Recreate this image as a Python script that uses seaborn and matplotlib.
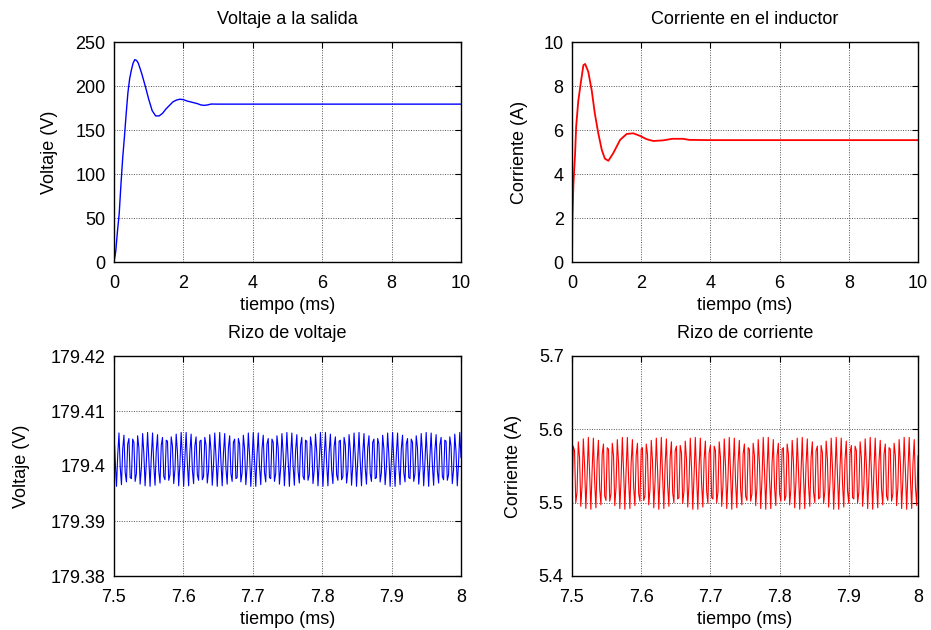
import numpy as np
import pandas as pd
import matplotlib
matplotlib.use("Agg")
import matplotlib.pyplot as plt
import seaborn as sns

# ---------------- data ----------------
# Output voltage (V) vs time (ms)
volt_t = [0, 0.05, 0.1, 0.15, 0.2, 0.25, 0.3, 0.35, 0.4, 0.45, 0.5, 0.55, 0.6, 0.65,
          0.7, 0.8, 0.9, 1.0, 1.1, 1.2, 1.3, 1.4, 1.5, 1.6, 1.7, 1.8, 1.9, 2.0, 2.1,
          2.2, 2.3, 2.4, 2.5, 2.6, 2.7, 2.8, 3.0, 4.0, 5.0, 6.0, 7.0, 8.0, 9.0, 10.0]
volt_v = [0, 12, 35, 55, 88, 118, 142, 168, 192, 208, 218, 226, 230, 229,
          226, 214, 200, 185, 172, 166, 166, 169, 174, 178, 182, 184, 185, 184.5, 183,
          182, 181, 180, 178.5, 178, 178.5, 179.5, 179.4, 179.4, 179.4, 179.4, 179.4,
          179.4, 179.4, 179.4]

# Inductor current (A) vs time (ms)
curr_t = [0, 0.01, 0.04, 0.09, 0.12, 0.18, 0.25, 0.33, 0.38, 0.47, 0.57, 0.66, 0.76,
          0.86, 0.95, 1.05, 1.19, 1.39, 1.58, 1.77, 1.97, 2.16, 2.35, 2.64, 2.9, 3.2,
          3.4, 4.0, 10.0]
curr_i = [0, 1.8, 3.5, 4.95, 6.15, 7.3, 8.1, 8.95, 9.0, 8.65, 7.8, 6.75, 5.85,
          5.1, 4.7, 4.6, 4.94, 5.55, 5.82, 5.85, 5.73, 5.58, 5.5, 5.53, 5.6, 5.6,
          5.55, 5.54, 5.54]

# Ripple window (ms)
ripple_t_start = 7.5
ripple_t_end = 8.0

# Voltage ripple: samples in units of 0.1 mV above 179.4 V
volt_ripple_base = 179.4
volt_ripple_units = [
    61, 9, -37, 20, 60, -2, -34, 31, 56, -12,
    -29, 40, 50, -21, -23, 49, 43, -28, -14, 55,
    33, -33, -4, 59, 23, -36, 7, 61, 12, -37,
    17, 60, 1, -35, 28, 57, -9, -31, 38, 52,
    -19, -25, 47, 45, -26, -16, 53, 36, -32, -7,
    58, 26, -36, 4, 61, 15,
    -37, 15, 61, 4, -36, 26, 58, -7, -32, 36,
    53, -16, -26, 45, 47, -25, -19, 52, 38, -31,
    -9, 57, 28, -35, 1, 60, 17, -37, 12, 61,
    7, -36, 23, 59, -4, -33, 33, 55, -14, -28,
    43, 49, -23, -21, 50, 40, -29, -12, 56, 31,
    -34, -2, 60, 20, -37, 9,
    61, 9, -37, 20, 60, -2, -34, 31, 56, -12,
    -29, 40, 50, -21, -23, 49, 43, -28, -14, 55,
    33, -33, -4, 59, 23, -36, 7, 61, 12, -37,
    17, 60, 1, -35, 28, 57, -9, -31, 38, 52,
    -19, -25, 47, 45, -26, -16, 53, 36, -32, -7,
    58, 26, -36, 4, 61, 15,
    -37, 15, 61, 4, -36, 26, 58, -7, -32, 36,
    53, -16, -26, 45, 47, -25, -19, 52, 38, -31,
    -9, 57, 28, -35, 1, 60, 17, -37, 12, 61,
    7, -36, 23, 59, -4, -33, 33, 55, -14, -28,
    43, 49, -23, -21, 50, 40, -29, -12, 56, 31,
    -34, -2, 60, 20, -37, 9,
    61, 9, -37, 20, 60, -2, -34, 31, 56, -12,
    -29, 40, 50, -21, -23, 49, 43, -28, -14, 55,
    33, -33, -4, 59, 23, -36, 7, 61, 12, -37,
    17, 60, 1, -35, 28, 57, -9, -31, 38, 52,
    -19, -25, 47, 45, -26, -16, 53, 36, -32, -7,
    58, 26, -36, 4, 61, 15]

# Current ripple: samples in mA above 5.5 A
curr_ripple_base = 5.5
curr_ripple_units = [
    5, 77, 71, 0, 14, 83,
    61, -5, 24, 87, 51, -8, 35, 89, 40, -9,
    45, 88, 29, -7, 56, 85, 19, -3, 66, 80,
    9, 3, 75, 73, 2, 12, 81, 64, -4, 21,
    86, 54, -8, 32, 89, 43,
    -9, 43, 89, 32, -8, 54, 86, 21, -4, 64,
    81, 12, 2, 73, 75, 3, 9, 80, 66, -3,
    19, 85, 56, -7, 29, 88, 45, -9, 40, 89,
    35, -8, 51, 87, 24, -5, 61, 83, 14, 0,
    71, 77, 5, 7, 78, 68, -1, 16, 84, 59,
    -6, 26, 88, 48, -9, 37,
    89, 37, -9, 48, 88, 26, -6, 59, 84, 16,
    -1, 68, 78, 7,
    5, 77, 71, 0, 14, 83,
    61, -5, 24, 87, 51, -8, 35, 89, 40, -9,
    45, 88, 29, -7, 56, 85, 19, -3, 66, 80,
    9, 3, 75, 73, 2, 12, 81, 64, -4, 21,
    86, 54, -8, 32, 89, 43,
    -9, 43, 89, 32, -8, 54, 86, 21, -4, 64,
    81, 12, 2, 73, 75, 3, 9, 80, 66, -3,
    19, 85, 56, -7, 29, 88, 45, -9, 40, 89,
    35, -8, 51, 87, 24, -5, 61, 83, 14, 0,
    71, 77, 5, 7, 78, 68, -1, 16, 84, 59,
    -6, 26, 88, 48, -9, 37,
    89, 37, -9, 48, 88, 26, -6, 59, 84, 16,
    -1, 68, 78, 7,
    5, 77, 71, 0, 14, 83,
    61, -5, 24, 87, 51, -8, 35, 89, 40, -9,
    45, 88, 29, -7, 56, 85, 19, -3, 66, 80,
    9, 3, 75, 73, 2, 12, 81, 64, -4, 21,
    86, 54, -8, 32, 89, 43,
    -9, 43, 89, 32, -8, 54, 86, 21, -4, 64]

# Tick labels
top_xticks = [0, 2, 4, 6, 8, 10]
volt_yticks = [0, 50, 100, 150, 200, 250]
curr_yticks = [0, 2, 4, 6, 8, 10]
ripple_xticks = [7.5, 7.6, 7.7, 7.8, 7.9, 8.0]
ripple_xlabels = ["7.5", "7.6", "7.7", "7.8", "7.9", "8"]
vr_yticks = [179.38, 179.39, 179.40, 179.41, 179.42]
vr_ylabels = ["179.38", "179.39", "179.4", "179.41", "179.42"]
cr_yticks = [5.4, 5.5, 5.6, 5.7]
cr_ylabels = ["5.4", "5.5", "5.6", "5.7"]

titles = ["Voltaje a la salida", "Corriente en el inductor",
          "Rizo de voltaje", "Rizo de corriente"]
xlabel = "tiempo (ms)"
ylabels = ["Voltaje (V)", "Corriente (A)", "Voltaje (V)", "Corriente (A)"]

# ---------------- frames ----------------
df_v = pd.DataFrame({"t": volt_t, "y": volt_v})
df_i = pd.DataFrame({"t": curr_t, "y": curr_i})
rt_v = np.linspace(ripple_t_start, ripple_t_end, len(volt_ripple_units))
rt_i = np.linspace(ripple_t_start, ripple_t_end, len(curr_ripple_units))
df_vr = pd.DataFrame({"t": rt_v,
                      "y": volt_ripple_base + np.array(volt_ripple_units) / 10000.0})
df_ir = pd.DataFrame({"t": rt_i,
                      "y": curr_ripple_base + np.array(curr_ripple_units) / 1000.0})

# ---------------- style ----------------
sns.set_style("white")
plt.rcParams["font.family"] = ["Liberation Sans", "DejaVu Sans"]
plt.rcParams["font.size"] = 13
plt.rcParams["text.color"] = "black"
plt.rcParams["axes.labelcolor"] = "black"
plt.rcParams["axes.titlecolor"] = "black"

fig = plt.figure(figsize=(9.31, 6.30), dpi=100)
W, H = 931.0, 630.0

def make_ax(x0, x1, y0, y1):
    return fig.add_axes([x0 / W, 1 - y1 / H, (x1 - x0) / W, (y1 - y0) / H])

ax1 = make_ax(114, 461, 42, 262)
ax2 = make_ax(572, 918, 42, 262)
ax3 = make_ax(114, 461, 356, 576)
ax4 = make_ax(572, 918, 356, 576)

sns.lineplot(data=df_v, x="t", y="y", ax=ax1, color="#0000ff", linewidth=1.0,
             estimator=None, sort=False)
sns.lineplot(data=df_i, x="t", y="y", ax=ax2, color="#ff0000", linewidth=1.3,
             estimator=None, sort=False)
sns.lineplot(data=df_vr, x="t", y="y", ax=ax3, color="#0000ff", linewidth=0.8,
             estimator=None, sort=False)
sns.lineplot(data=df_ir, x="t", y="y", ax=ax4, color="#ff0000", linewidth=0.8,
             estimator=None, sort=False)

ax1.set_xlim(0, 10); ax1.set_ylim(0, 250)
ax1.set_xticks(top_xticks); ax1.set_yticks(volt_yticks)
ax2.set_xlim(0, 10); ax2.set_ylim(0, 10)
ax2.set_xticks(top_xticks); ax2.set_yticks(curr_yticks)
ax3.set_xlim(ripple_t_start, ripple_t_end); ax3.set_ylim(179.38, 179.42)
ax3.set_xticks(ripple_xticks); ax3.set_xticklabels(ripple_xlabels)
ax3.set_yticks(vr_yticks); ax3.set_yticklabels(vr_ylabels)
ax4.set_xlim(ripple_t_start, ripple_t_end); ax4.set_ylim(5.4, 5.7)
ax4.set_xticks(ripple_xticks); ax4.set_xticklabels(ripple_xlabels)
ax4.set_yticks(cr_yticks); ax4.set_yticklabels(cr_ylabels)

for ax, title, yl in zip([ax1, ax2, ax3, ax4], titles, ylabels):
    ax.set_title(title, fontsize=13, pad=13, color="black")
    ax.set_xlabel(xlabel, fontsize=13, labelpad=4, color="black")
    ax.set_ylabel(yl, fontsize=13, color="black")
    ax.grid(True, color="#555555", linestyle=(0, (1, 1.5)), linewidth=0.7)
    ax.tick_params(axis="x", direction="in", top=True, length=4, width=0.8,
                   labelsize=13, pad=9, colors="black")
    ax.tick_params(axis="y", direction="in", right=True, length=4, width=0.8,
                   labelsize=13, pad=6, colors="black")
    for sp in ax.spines.values():
        sp.set_visible(True)
        sp.set_color("black")
        sp.set_linewidth(1.0)
    ax.set_axisbelow(True)

# y-label positions independent of tick-label widths
ax1.yaxis.set_label_coords(-56 / 347.0, 0.5)
ax2.yaxis.set_label_coords(-44 / 346.0, 0.5)
ax3.yaxis.set_label_coords(-84 / 347.0, 0.5)
ax4.yaxis.set_label_coords(-50 / 346.0, 0.5)

fig.savefig("out.png", dpi=100, facecolor="white")
